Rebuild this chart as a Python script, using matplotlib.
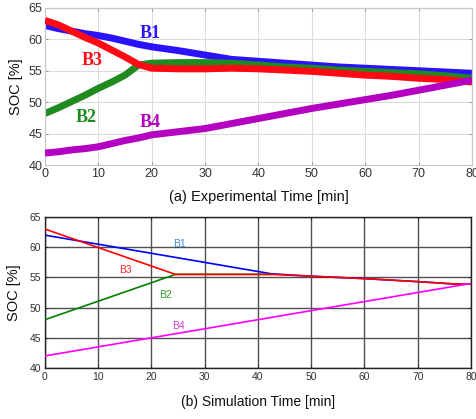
import matplotlib
matplotlib.use("Agg")
import matplotlib.pyplot as plt

# ---------------- data ----------------
exp_t = [0, 2.5, 5, 7.5, 10, 12.5, 15, 17.5, 20, 25, 30, 35, 40, 45, 50, 55, 60, 65, 70, 75, 80]
exp_b1 = [62.2, 61.7, 61.3, 60.9, 60.6, 60.2, 59.7, 59.2, 58.8, 58.2, 57.5, 56.8, 56.5, 56.2, 55.9, 55.6, 55.4, 55.2, 55.0, 54.8, 54.6]
exp_b2 = [48.2, 49.1, 50.1, 51.1, 52.2, 53.2, 54.3, 55.9, 56.2, 56.3, 56.3, 56.2, 55.9, 55.6, 55.4, 55.1, 54.9, 54.7, 54.5, 54.2, 53.8]
exp_b3 = [63.0, 62.3, 61.3, 60.3, 59.4, 58.3, 57.2, 56.0, 55.4, 55.3, 55.3, 55.4, 55.3, 55.1, 54.9, 54.6, 54.3, 54.1, 53.8, 53.6, 53.2]
exp_b4 = [41.9, 42.1, 42.4, 42.6, 42.9, 43.4, 43.9, 44.3, 44.8, 45.3, 45.8, 46.6, 47.4, 48.2, 49.0, 49.7, 50.4, 51.1, 51.9, 52.7, 53.5]

sim_b1_t = [0, 42.5, 50, 60, 70, 77, 80]
sim_b1 = [62.0, 55.6, 55.2, 54.8, 54.3, 53.9, 53.9]
sim_b2_t = [0, 24.5, 42.5]
sim_b2 = [48.0, 55.5, 55.5]
sim_b3_t = [0, 24.5, 42.5, 50, 60, 70, 77, 80]
sim_b3 = [63.0, 55.5, 55.5, 55.2, 54.8, 54.3, 53.9, 53.9]
sim_b4_t = [0, 80]
sim_b4 = [42.0, 54.0]

x_ticks = [0, 10, 20, 30, 40, 50, 60, 70, 80]
y_ticks = [40, 45, 50, 55, 60, 65]

labels = ["B1", "B2", "B3", "B4"]
exp_label_pos = [(19.7, 61.0), (7.7, 47.6), (8.8, 56.6), (19.7, 46.8)]
sim_label_pos = [(25.2, 60.5), (22.7, 52.1), (15.2, 56.2), (25.0, 47.0)]

exp_colors = ["#2a12ff", "#1f8a1f", "#ff0a14", "#b400c0"]
sim_colors = ["#0000ff", "#008000", "#ff0000", "#ff00ff"]
sim_label_colors = ["#3a8fd6", "#2a9a2a", "#ff2a2a", "#d040d0"]

# ---------------- figure ----------------
fig = plt.figure(figsize=(4.77, 4.19), dpi=100)
sans = "Liberation Sans"

# Top: experimental
ax1 = fig.add_axes([0.0943, 0.6062, 0.8952, 0.375])
series = [(exp_b1, 1), (exp_b2, 2), (exp_b3, 3), (exp_b4, 4)]
for (vals, z), c in zip(series, exp_colors):
    ax1.plot(exp_t, vals, color=c, lw=5.0, solid_capstyle="butt", zorder=z)
for lab, (px, py), c in zip(labels, exp_label_pos, exp_colors):
    ax1.text(px, py, lab, color=c, fontsize=13, fontweight="bold",
             family="Liberation Serif", ha="center", va="center", zorder=6)
ax1.set_xlim(0, 80)
ax1.set_ylim(40, 65)
ax1.set_xticks(x_ticks)
ax1.set_yticks(y_ticks)
ax1.grid(True, color="#dcdcdc", lw=0.8)
ax1.set_axisbelow(True)
for s in ax1.spines.values():
    s.set_color("#c8c8c8")
    s.set_linewidth(0.9)
ax1.tick_params(direction="in", length=2.5, width=0.6, color="#888888",
                top=True, right=True, labelsize=9, labelcolor="#333333", pad=2)
for t in ax1.get_xticklabels() + ax1.get_yticklabels():
    t.set_family(sans)
ax1.set_xlabel("(a) Experimental Time [min]", fontsize=10.5, family=sans,
               color="#111111", labelpad=7)
ax1.set_ylabel("SOC [%]", fontsize=10.5, family=sans, color="#111111", labelpad=4)

# Bottom: simulation
ax2 = fig.add_axes([0.0943, 0.1217, 0.8931, 0.3604])
sim_series = [(sim_b1_t, sim_b1, 2), (sim_b2_t, sim_b2, 3), (sim_b3_t, sim_b3, 4), (sim_b4_t, sim_b4, 5)]
for (tt, vals, z), c in zip(sim_series, sim_colors):
    ax2.plot(tt, vals, color=c, lw=1.2, zorder=z)
for lab, (px, py), c in zip(labels, sim_label_pos, sim_label_colors):
    ax2.text(px, py, lab, color=c, fontsize=7.5, family=sans,
             ha="center", va="center", zorder=6)
ax2.set_xlim(0, 80)
ax2.set_ylim(40, 65)
ax2.set_xticks(x_ticks)
ax2.set_yticks(y_ticks)
ax2.grid(True, color="#505050", lw=1.0)
ax2.set_axisbelow(True)
for s in ax2.spines.values():
    s.set_color("#222222")
    s.set_linewidth(1.0)
ax2.tick_params(direction="in", length=2.5, width=0.6, color="#222222",
                top=True, right=True, labelsize=7.5, labelcolor="#333333", pad=3)
for t in ax2.get_xticklabels() + ax2.get_yticklabels():
    t.set_family(sans)
ax2.set_xlabel("(b) Simulation Time [min]", fontsize=10, family=sans,
               color="#111111", labelpad=9)
ax2.set_ylabel("SOC [%]", fontsize=10.5, family=sans, color="#111111", labelpad=6)

fig.savefig("out.png", dpi=100)
